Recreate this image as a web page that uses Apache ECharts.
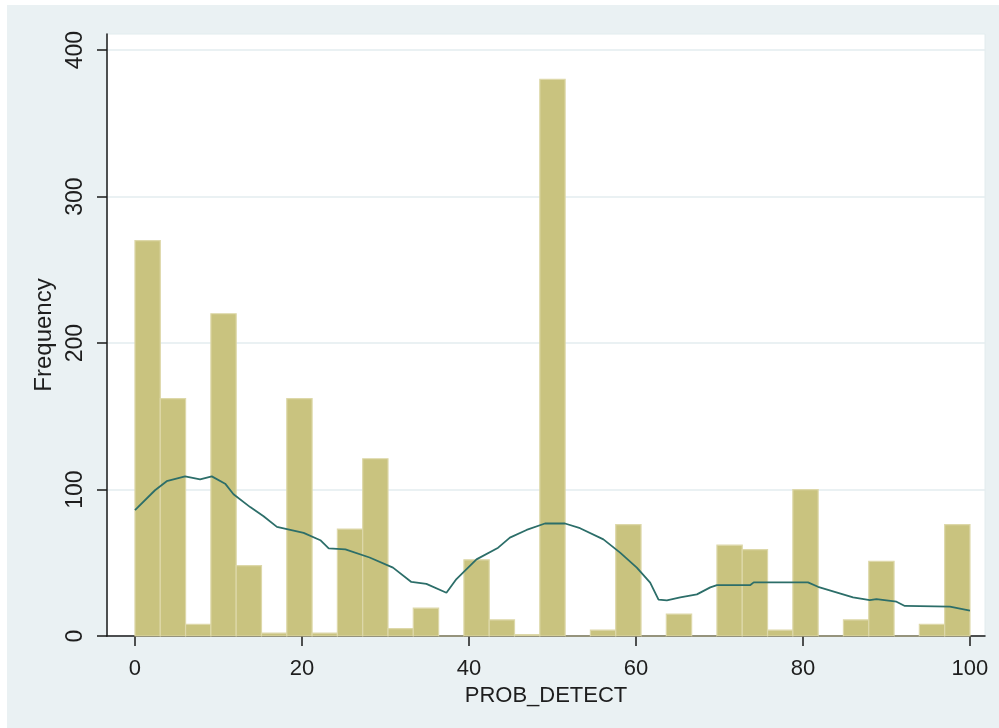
<!DOCTYPE html>
<html>
<head>
<meta charset="utf-8">
<script src="https://cdn.jsdelivr.net/npm/echarts@6/dist/echarts.min.js"></script>
<style>
  html, body { margin: 0; padding: 0; background: #ffffff; }
  #bg { position: absolute; left: 7px; top: 5px; width: 992px; height: 723px; background: #eaf1f3; }
  #chart { position: absolute; left: 0; top: 0; width: 999px; height: 728px; }
</style>
</head>
<body>
<div id="bg"></div>
<div id="chart"></div>
<script>
// Histogram of PROB_DETECT: 33 bins from 0 to 100
const binStart = 0;
const binEnd = 100;
const binCount = 33;
const frequencies = [270, 162, 8, 220, 48, 2, 162, 2, 73, 121, 5, 19, 0, 52, 11, 1, 380, 0, 4, 76, 0, 15, 0, 62, 59, 4, 100, 0, 11, 51, 0, 8, 76];

// Kernel density overlay (scaled to frequency)
const densityX = [0, 2.4, 3.8, 6, 7.8, 9.2, 10.8, 11.8, 13.8, 15.4, 17, 20.2, 22.2, 23.2, 25.2, 28.1, 30.9, 33.1, 34.9, 37.3, 38.5, 40.9, 43.5, 44.9, 46.9, 49.1, 51.5, 53.3, 56.1, 58.1, 60.1, 61.7, 62.7, 63.7, 65.3, 67.3, 68.9, 69.7, 73.7, 74.1, 80.6, 81.8, 83.8, 86, 88, 88.8, 91.2, 92.2, 97.6, 100];
const densityY = [86, 99.5, 105.7, 109, 107, 109, 104, 96.8, 88, 81.8, 74.5, 70.4, 65.4, 59.8, 59.1, 53.6, 46.7, 36.9, 35.6, 29.5, 38.9, 52.3, 60.3, 67.2, 72.4, 76.8, 76.8, 73.6, 66, 56.9, 46.7, 36.4, 24.8, 24.3, 26.3, 28.4, 33.2, 34.8, 34.8, 36.6, 36.6, 33.6, 30.2, 26.4, 24.5, 25.2, 23.4, 20.5, 20, 17.3];

const xTicks = [0, 20, 40, 60, 80, 100];
const yTicks = [0, 100, 200, 300, 400];
const xTitle = 'PROB_DETECT';
const yTitle = 'Frequency';

const binWidth = (binEnd - binStart) / binCount;
const histData = frequencies.map((f, i) => [binStart + i * binWidth, binStart + (i + 1) * binWidth, f]);
const densityData = densityX.map((x, i) => [x, densityY[i]]);

const FONT = "'Liberation Sans', Arial, sans-serif";
const chart = echarts.init(document.getElementById('chart'), null, { renderer: 'canvas' });

chart.setOption({
  backgroundColor: 'transparent',
  animation: false,
  grid: {
    left: 107, right: 14, top: 34, bottom: 92,
    show: true, backgroundColor: '#ffffff', borderColor: '#e2ecee', borderWidth: 1
  },
  xAxis: {
    type: 'value',
    min: -3.35, max: 101.8,
    name: xTitle, nameLocation: 'middle', nameGap: 41,
    nameTextStyle: { fontFamily: FONT, fontSize: 22, color: '#1e1e1e' },
    axisLine: { show: true, onZero: false, lineStyle: { color: '#1a1a1a', width: 1.5 } },
    axisTick: { show: true, length: 10, customValues: xTicks, lineStyle: { color: '#1a1a1a', width: 1.5 } },
    axisLabel: { customValues: xTicks, margin: 22, fontFamily: FONT, fontSize: 22, color: '#1e1e1e' },
    splitLine: { show: false }
  },
  yAxis: {
    type: 'value',
    min: 0, max: 411,
    name: yTitle, nameLocation: 'middle', nameGap: 43, nameRotate: 90,
    nameTextStyle: { fontFamily: FONT, fontSize: 24, color: '#1e1e1e' },
    axisLine: { show: true, onZero: false, lineStyle: { color: '#1a1a1a', width: 1.5 } },
    axisTick: { show: true, length: 10, customValues: yTicks, lineStyle: { color: '#1a1a1a', width: 1.5 } },
    axisLabel: { customValues: yTicks, rotate: 90, margin: 20, fontFamily: FONT, fontSize: 23, color: '#1e1e1e' },
    splitLine: { show: true, lineStyle: { color: '#e3edef', width: 1.5 } }
  },
  series: [
    {
      type: 'custom',
      data: histData,
      encode: { x: [0, 1], y: 2 },
      renderItem: function (params, api) {
        const p0 = api.coord([api.value(0), api.value(2)]);
        const p1 = api.coord([api.value(1), 0]);
        return {
          type: 'rect',
          shape: { x: p0[0], y: p0[1], width: p1[0] - p0[0], height: p1[1] - p0[1] },
          style: { fill: '#c9c37f', stroke: '#ddd8a9', lineWidth: 1.2 }
        };
      },
      z: 2
    },
    {
      type: 'line',
      data: densityData,
      showSymbol: false,
      smooth: false,
      lineStyle: { color: '#2c6e69', width: 1.8 },
      z: 3
    }
  ]
});
</script>
</body>
</html>
